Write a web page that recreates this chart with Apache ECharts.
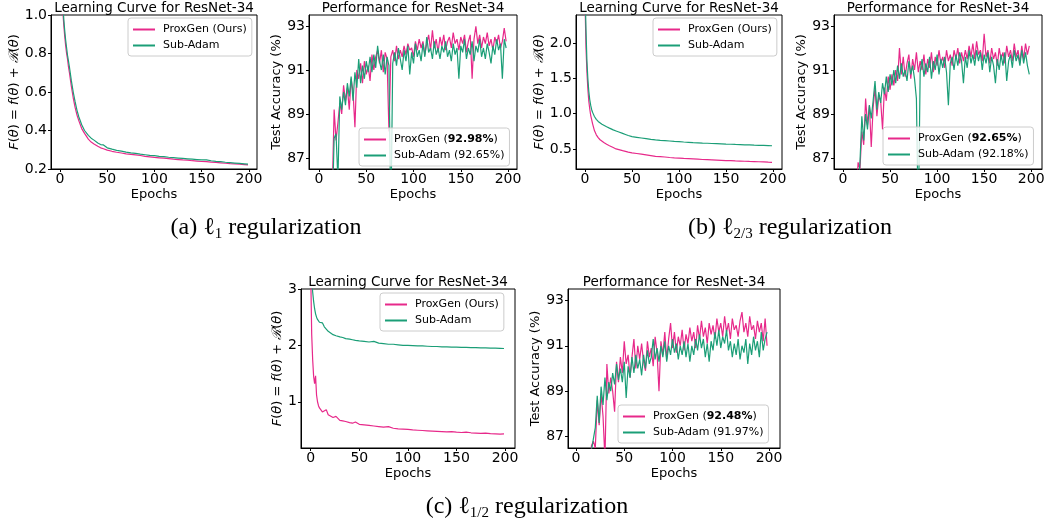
<!DOCTYPE html>
<html>
<head>
<meta charset="UTF-8">
<title>ProxGen vs Sub-Adam, ResNet-34</title>
<script src="https://cdn.jsdelivr.net/npm/echarts@6/dist/echarts.min.js"></script>
<style>
  html, body { margin: 0; padding: 0; background: #fff; }
  #main { width: 1045px; height: 525px; }
</style>
</head>
<body>
<div id="main"></div>
<script type="text/javascript">
// ---- data ----
var lossEpochs = [0,1,2,3,4,5,6,7,8,9,10, 12,14,16,18,20, 23,26,30,33,36,40,43,46,50,
  55,60,65,70,75,80,85,90,95,100,105,110,115,120,125,130,135,140,145,150,
  155,160,165,170,175,180,185,190,195,199];

// (a) l1 : objective
var l1Prox = [1.90,1.45,1.18,1.02,0.95,0.89,0.84,0.80,0.77,0.73,0.70, 0.63,0.57,0.52,0.48,0.45,
  0.41,0.385,0.355,0.34,0.33,0.318,0.31,0.305,0.298,
  0.292,0.287,0.283,0.279,0.276,0.273,0.27,0.266,0.263,0.26,
  0.258,0.256,0.254,0.251,0.249,0.247,0.246,0.243,0.241,0.239,
  0.238,0.236,0.234,0.232,0.23,0.228,0.227,0.225,0.223,0.221];
var l1Sub = [1.95,1.5,1.22,1.06,0.98,0.92,0.87,0.83,0.79,0.76,0.73, 0.66,0.60,0.55,0.505,0.47,
  0.43,0.40,0.375,0.36,0.35,0.335,0.327,0.325,0.31,
  0.303,0.297,0.293,0.288,0.284,0.281,0.277,0.274,0.271,0.269,
  0.266,0.264,0.261,0.259,0.257,0.255,0.253,0.251,0.249,0.247,
  0.247,0.243,0.24,0.238,0.235,0.233,0.231,0.229,0.227,0.225];
// (b) l2/3 : objective
var l23Prox = [2.6,1.95,1.6,1.35,1.18,1.07,0.98,0.92,0.86,0.81,0.76, 0.70,0.66,0.63,0.61,0.59,
  0.565,0.545,0.52,0.50,0.49,0.475,0.465,0.455,0.445,
  0.435,0.425,0.415,0.405,0.395,0.39,0.385,0.378,0.373,0.37,
  0.365,0.362,0.358,0.354,0.35,0.347,0.344,0.341,0.338,0.335,
  0.333,0.33,0.328,0.325,0.322,0.32,0.318,0.315,0.312,0.31];
var l23Sub = [2.8,2.2,1.75,1.5,1.32,1.2,1.12,1.06,1.02,0.99,0.96, 0.92,0.89,0.87,0.85,0.835,
  0.815,0.795,0.77,0.755,0.74,0.72,0.705,0.69,0.675,
  0.665,0.655,0.645,0.635,0.628,0.622,0.617,0.612,0.607,0.603,
  0.598,0.594,0.59,0.587,0.583,0.58,0.577,0.574,0.571,0.568,
  0.566,0.563,0.561,0.558,0.556,0.553,0.551,0.549,0.547,0.545];
// (c) l1/2 : objective
var l12Prox = [3.3,2.2,1.75,1.45,1.32,1.46,1.12,1.0,0.93,0.89,0.86, 0.82,0.80,0.86,0.77,0.75,
  0.72,0.74,0.67,0.66,0.65,0.63,0.62,0.64,0.60,
  0.59,0.58,0.57,0.56,0.55,0.56,0.53,0.52,0.515,0.51,
  0.50,0.495,0.49,0.485,0.48,0.475,0.47,0.465,0.47,0.46,
  0.455,0.46,0.45,0.445,0.44,0.445,0.435,0.43,0.425,0.43];
var l12Sub = [3.6,3.2,2.95,2.78,2.65,2.56,2.5,2.46,2.43,2.41,2.42, 2.40,2.33,2.29,2.25,2.22,
  2.19,2.17,2.15,2.14,2.12,2.11,2.10,2.09,2.08,
  2.07,2.06,2.07,2.04,2.03,2.02,2.02,2.01,2.0,2.0,
  1.995,1.99,1.99,1.985,1.98,1.98,1.975,1.975,1.97,1.97,
  1.965,1.965,1.96,1.96,1.955,1.955,1.95,1.95,1.948,1.945];

var accEpochs = [0,2,4,6,8,10,12,14,16,18, 20,22,24,26,28,30,32,34,36,38,
  40,42,44,46,48,50,52,54,56,58, 60,62,64,66,68,70,72,74,76,78,
  80,82,84,86,88,90,92,94,96,98, 100,102,104,106,108,110,112,114,116,118,
  120,122,124,126,128,130,132,134,136,138, 140,142,144,146,148,150,152,154,156,158,
  160,162,164,166,168,170,172,174,176,178, 180,182,184,186,188,190,192,194,196,198];

// (a) l1 : test accuracy
var accL1Prox = [45,62,70,75,79,82,84,85.5,89.2,87.8,
  88.6,89.5,89.0,90.3,89.6,90.2,89.2,90.6,90.0,88.4,
  91.0,90.6,91.3,90.4,91.4,90.8,91.2,90.5,91.7,91.0,
  91.6,91.9,91.3,91.9,90.9,91.8,91.5,88.2,91.6,91.9,
  91.4,92.1,91.5,91.9,91.6,92.1,91.7,92.2,91.9,92.0,
  91.6,92.3,91.9,92.4,92.0,92.3,91.7,92.2,92.6,91.9,
  92.8,92.0,92.4,91.8,92.5,92.1,92.6,91.9,92.3,92.5,
  92.0,92.7,92.2,92.4,91.9,92.5,92.2,92.6,91.8,92.3,
  92.6,90.6,92.4,92.98,92.2,92.6,92.0,92.5,92.2,92.7,
  92.1,92.4,91.9,92.5,92.2,92.6,92.0,92.3,92.9,92.3];
var accL1Sub = [40,58,68,74,78,81,83,84.5,87.9,88.1,
  86.0,89.8,89.2,90.0,89.4,90.4,89.8,90.7,89.6,90.9,
  90.2,91.5,90.4,91.2,90.6,91.4,90.9,91.6,90.9,91.7,
  91.1,92.1,91.4,91.0,91.7,90.8,91.6,91.2,84.0,91.3,
  91.8,91.2,92.0,91.5,91.0,91.9,91.4,92.1,90.8,91.8,
  91.3,92.2,91.6,91.9,91.4,92.2,91.6,92.5,91.8,92.0,
  91.5,92.3,91.7,92.0,91.5,92.1,91.8,92.3,91.6,91.9,
  91.4,92.2,91.7,92.0,90.6,92.1,91.8,92.4,91.5,92.0,
  91.7,92.3,91.4,92.1,91.8,92.4,91.6,92.0,91.5,92.2,
  91.8,91.3,92.1,91.7,92.4,91.9,92.2,90.6,92.4,92.0];
// (b) l2/3 : test accuracy
var accL23Prox = [40,58,68,74,78,81,83.5,85,86.8,86.5,
  88.2,87.6,89.7,88.5,89.4,87.5,89.3,90.2,88.9,89.8,
  89.6,88.3,90.2,89.6,90.7,90.1,90.8,90.3,91.0,90.5,
  92.0,90.8,91.6,90.7,91.3,91.7,90.6,91.5,91.0,91.8,
  90.9,91.4,91.0,91.7,90.8,91.5,91.1,91.8,90.9,91.6,
  91.2,91.9,91.3,91.6,91.1,91.9,91.4,91.7,91.2,91.9,
  91.5,92.0,91.3,91.8,91.4,91.9,91.5,92.1,91.6,92.2,
  91.5,92.3,91.7,91.9,91.4,92.65,91.6,91.9,91.3,92.0,
  91.5,91.8,91.2,92.0,91.5,91.8,91.3,92.1,91.6,91.9,
  91.4,92.2,91.6,91.9,91.3,92.1,91.5,92.2,91.7,92.1];
var accL23Sub = [38,56,66,72,77,80,82.5,84,85.5,86.8,
  88.9,87.8,89.0,88.3,89.4,88.8,89.6,90.5,89.2,90.0,
  89.5,90.4,89.9,90.7,90.0,90.8,90.3,91.0,90.4,91.2,
  90.6,91.3,90.7,91.0,90.5,91.4,90.8,91.2,90.6,89.7,
  84.0,90.9,91.5,90.7,91.3,90.9,91.6,90.6,91.4,91.0,
  91.7,90.8,91.5,91.1,91.6,90.9,89.4,91.3,91.6,91.0,
  91.7,91.2,91.8,91.4,90.4,91.6,91.1,91.9,91.3,91.7,
  91.2,91.9,91.4,91.8,91.0,91.7,91.3,91.8,90.9,91.6,
  91.2,90.4,91.5,91.0,91.7,91.2,91.8,90.5,91.4,91.7,
  91.1,91.9,91.4,91.7,91.2,91.9,91.3,91.8,91.2,90.8];
// (c) l1/2 : test accuracy
var accL12Prox = [35,52,62,70,75,79,82,84.5,86.6,86.8,
  86.5,88.6,87.5,88.9,87.9,86.0,90.2,88.9,89.6,89.0,
  88.1,90.3,89.4,90.5,89.8,91.2,90.2,90.6,89.6,90.5,
  91.3,90.0,91.0,90.4,91.1,90.3,89.9,91.2,90.5,90.9,
  90.1,91.4,90.7,89.0,91.2,90.6,91.6,90.4,91.3,92.0,
  90.9,91.6,90.7,91.4,91.0,91.7,90.8,91.5,91.1,91.8,
  91.2,91.6,90.9,91.9,91.3,92.1,91.4,91.8,91.1,92.0,
  91.5,91.9,91.3,92.2,91.6,92.0,91.4,92.3,91.6,92.0,
  91.3,92.2,91.7,91.9,91.4,92.1,92.48,91.6,92.0,91.4,
  92.3,91.7,91.9,91.3,92.1,91.6,92.0,91.2,92.2,91.0];
var accL12Sub = [36,53,63,71,76,80,83,85,86.4,86.9,
  87.4,88.8,87.6,89.2,88.4,89.6,88.6,89.4,89.0,89.8,
  89.3,90.2,89.5,90.0,89.4,90.3,88.7,90.1,89.6,90.5,
  89.8,90.6,90.0,90.4,89.7,90.6,90.0,90.8,90.2,90.5,
  91.3,90.4,90.9,90.3,91.0,90.5,91.2,90.3,91.0,90.6,
  91.3,90.7,91.1,90.4,91.0,90.6,91.2,90.5,91.1,90.3,
  91.0,90.6,91.3,90.8,91.5,90.9,91.3,90.5,91.1,90.3,
  91.2,90.8,91.6,91.0,91.7,90.9,91.4,91.1,91.7,90.8,
  91.2,90.5,91.1,90.6,91.3,90.4,91.0,90.7,91.3,90.2,
  91.1,90.6,91.4,90.8,91.2,90.5,91.6,90.8,91.3,91.6];

var xTicks = [0, 50, 100, 150, 200];
var accTicks = [87, 89, 91, 93];

// ---- styling ----
var PINK = '#e7298a';
var GREEN = '#1b9e77';
var FONT = 'DejaVu Sans';
var SERIF = 'Liberation Serif';

var lossName = '{i|F}({i|\u03b8}) = {i|f}({i|\u03b8}) + {c|\u211b}({i|\u03b8})';
var accName = 'Test Accuracy (%)';

// one entry per subplot: where it sits and how its y axis runs
var panels = [
  { left: 51,  top: 15,  width: 206, height: 154, xMin: -9.5,  xMax: 208.5,
    yMin: 0.2, yMax: 1.0, yTicks: [0.2,0.4,0.6,0.8,1.0], dec: 1, yName: lossName, nameGap: 28,
    title: 'Learning Curve for ResNet-34', x: lossEpochs, prox: l1Prox, sub: l1Sub,
    proxName: 'ProxGen (Ours)', subName: 'Sub-Adam', legendLeft: 128, legendTop: 18 },
  { left: 309, top: 15,  width: 208, height: 154, xMin: -10.6, xMax: 209.5,
    yMin: 86.5, yMax: 93.5, yTicks: accTicks, dec: 0, yName: accName, nameGap: 21,
    title: 'Performance for ResNet-34', x: accEpochs, prox: accL1Prox, sub: accL1Sub,
    proxName: 'ProxGen (92.98%)', subName: 'Sub-Adam (92.65%)', legendLeft: 359, legendTop: 128 },
  { left: 576, top: 15,  width: 206, height: 154, xMin: -9.6,  xMax: 209.6,
    yMin: 0.215, yMax: 2.4, yTicks: [0.5,1.0,1.5,2.0], dec: 1, yName: lossName, nameGap: 29,
    title: 'Learning Curve for ResNet-34', x: lossEpochs, prox: l23Prox, sub: l23Sub,
    proxName: 'ProxGen (Ours)', subName: 'Sub-Adam', legendLeft: 653, legendTop: 18 },
  { left: 834, top: 15,  width: 208, height: 154, xMin: -9.6,  xMax: 211.5,
    yMin: 86.5, yMax: 93.5, yTicks: accTicks, dec: 0, yName: accName, nameGap: 21,
    title: 'Performance for ResNet-34', x: accEpochs, prox: accL23Prox, sub: accL23Sub,
    proxName: 'ProxGen (92.65%)', subName: 'Sub-Adam (92.18%)', legendLeft: 883, legendTop: 127 },
  { left: 301, top: 289, width: 214, height: 159, xMin: -10,   xMax: 210.3,
    yMin: 0.18, yMax: 3, yTicks: [1,2,3], dec: 0, yName: lossName, nameGap: 12,
    title: 'Learning Curve for ResNet-34', x: lossEpochs, prox: l12Prox, sub: l12Sub,
    proxName: 'ProxGen (Ours)', subName: 'Sub-Adam', legendLeft: 380, legendTop: 293 },
  { left: 568, top: 289, width: 212, height: 159, xMin: -8.3,  xMax: 211.4,
    yMin: 86.5, yMax: 93.5, yTicks: accTicks, dec: 0, yName: accName, nameGap: 22,
    title: 'Performance for ResNet-34', x: accEpochs, prox: accL12Prox, sub: accL12Sub,
    proxName: 'ProxGen (92.48%)', subName: 'Sub-Adam (91.97%)', legendLeft: 618, legendTop: 405 }
];

function pairs(xs, ys) {
  return xs.map(function (x, i) { return [x, ys[i]]; });
}

// bold only the number in the ProxGen accuracy entries
function legendFmt(name) {
  var m = /^ProxGen \((\d+\.\d+%)\)$/.exec(name);
  if (m) return '{n|ProxGen (}{b|' + m[1] + '}{n|)}';
  return '{n|' + name + '}';
}

var grids = [], xAxes = [], yAxes = [], series = [], legends = [], graphics = [];

panels.forEach(function (p, i) {
  grids.push({ left: p.left, top: p.top, width: p.width, height: p.height,
    show: true, borderColor: '#000', borderWidth: 1, backgroundColor: '#fff',
    outerBoundsMode: 'none' });

  xAxes.push({
    gridIndex: i, type: 'value', min: p.xMin, max: p.xMax,
    axisLine: { show: true, onZero: false, lineStyle: { color: '#000', width: 1 } },
    axisTick: { show: true, length: 3, customValues: xTicks, lineStyle: { color: '#000' } },
    axisLabel: { customValues: xTicks, margin: 3, color: '#000', fontFamily: FONT, fontSize: 14 },
    splitLine: { show: false },
    name: 'Epochs', nameLocation: 'middle', nameGap: 19,
    nameTextStyle: { color: '#000', fontFamily: FONT, fontSize: 13 }
  });

  yAxes.push({
    gridIndex: i, type: 'value', min: p.yMin, max: p.yMax,
    axisLine: { show: true, onZero: false, lineStyle: { color: '#000', width: 1 } },
    axisTick: { show: true, length: 3, customValues: p.yTicks, lineStyle: { color: '#000' } },
    axisLabel: { customValues: p.yTicks, margin: 4, color: '#000', fontFamily: FONT, fontSize: 14,
      formatter: (function (d) { return function (v) { return v.toFixed(d); }; })(p.dec) },
    splitLine: { show: false },
    name: p.yName, nameLocation: 'middle', nameGap: p.nameGap,
    nameTextStyle: { color: '#000', fontFamily: FONT, fontSize: 13,
      rich: {
        i: { fontFamily: FONT, fontStyle: 'italic', fontSize: 13, color: '#000' },
        c: { fontFamily: 'DejaVu Serif', fontStyle: 'italic', fontSize: 13, color: '#000' }
      } }
  });

  series.push({
    type: 'line', name: p.proxName, xAxisIndex: i, yAxisIndex: i,
    data: pairs(p.x, p.prox), symbol: 'none', clip: true,
    lineStyle: { color: PINK, width: 1.2 }, itemStyle: { color: PINK }
  });
  series.push({
    type: 'line', name: p.subName, xAxisIndex: i, yAxisIndex: i,
    data: pairs(p.x, p.sub), symbol: 'none', clip: true,
    lineStyle: { color: GREEN, width: 1.2 }, itemStyle: { color: GREEN }
  });

  legends.push({
    left: p.legendLeft, top: p.legendTop, orient: 'vertical',
    data: [p.proxName, p.subName], icon: 'rect', itemWidth: 22, itemHeight: 2, itemGap: 3,
    padding: [5, 5, 4, 5], backgroundColor: 'rgba(255,255,255,0.8)',
    borderColor: '#cccccc', borderWidth: 1, borderRadius: 3,
    formatter: legendFmt, selectedMode: false,
    textStyle: { color: '#000', fontFamily: FONT, fontSize: 11, lineHeight: 13, padding: [0, 0, 0, 3],
      rich: {
        n: { color: '#000', fontFamily: FONT, fontSize: 11 },
        b: { color: '#000', fontFamily: FONT, fontSize: 11, fontWeight: 'bold' }
      } }
  });

  // subplot title
  graphics.push({
    type: 'text', x: p.left + p.width / 2, y: p.top - 7,
    style: { text: p.title, align: 'center', verticalAlign: 'middle',
      fill: '#000', font: '13.5px "DejaVu Sans"' }
  });
});

// sub-figure captions
var capRich = {
  t: { fontFamily: SERIF, fontSize: 24, lineHeight: 28, color: '#000' },
  l: { fontFamily: SERIF, fontSize: 24, lineHeight: 28, color: '#000' },
  s: { fontFamily: SERIF, fontSize: 15, lineHeight: 15, verticalAlign: 'bottom', color: '#000' }
};
var captions = [
  { x: 266, y: 228, text: '{t|(a) }{l|\u2113}{s|1}{t| regularization}' },
  { x: 790, y: 228, text: '{t|(b) }{l|\u2113}{s|2/3}{t| regularization}' },
  { x: 527, y: 507, text: '{t|(c) }{l|\u2113}{s|1/2}{t| regularization}' }
];
captions.forEach(function (c) {
  graphics.push({
    type: 'text', x: c.x, y: c.y,
    style: { text: c.text, rich: capRich, align: 'center', verticalAlign: 'middle' }
  });
});

var myChart = echarts.init(document.getElementById('main'), null, { renderer: 'canvas' });
myChart.setOption({
  animation: false,
  backgroundColor: '#fff',
  grid: grids,
  xAxis: xAxes,
  yAxis: yAxes,
  legend: legends,
  series: series,
  graphic: graphics
});
</script>
</body>
</html>
